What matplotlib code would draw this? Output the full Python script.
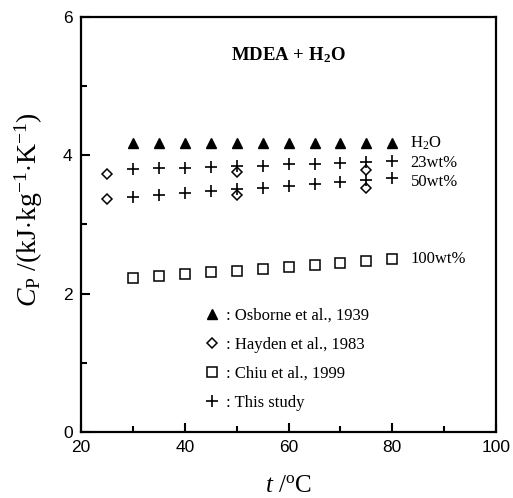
import numpy as np
import matplotlib
matplotlib.use('Agg')
import matplotlib.pyplot as plt
from matplotlib.ticker import MultipleLocator

plt.rcParams['mathtext.fontset'] = 'custom'
plt.rcParams['mathtext.rm'] = 'Liberation Serif'
plt.rcParams['mathtext.it'] = 'Liberation Serif:italic'
plt.rcParams['mathtext.bf'] = 'Liberation Serif:bold'

# temperatures, degC
t_study = [30, 35, 40, 45, 50, 55, 60, 65, 70, 75, 80]
t_hayden = [25, 50, 75]

# heat capacity, kJ/(kg K)
cp_water = [4.18, 4.18, 4.18, 4.18, 4.18, 4.18, 4.18, 4.18, 4.18, 4.18, 4.18]
cp_23 = [3.80, 3.81, 3.82, 3.83, 3.84, 3.85, 3.87, 3.88, 3.89, 3.91, 3.92]
cp_50 = [3.40, 3.43, 3.46, 3.48, 3.51, 3.53, 3.56, 3.59, 3.61, 3.64, 3.67]
cp_100 = [2.22, 2.25, 2.28, 2.31, 2.33, 2.36, 2.39, 2.42, 2.45, 2.47, 2.50]
hayden_23 = [3.73, 3.76, 3.79]
hayden_50 = [3.37, 3.42, 3.52]

series_labels = ['H$_2$O', '23wt%', '50wt%', '100wt%']
series_label_y = [4.18, 3.89, 3.61, 2.50]

fig = plt.figure(figsize=(5.13, 4.98), dpi=100)
ax = fig.add_axes([0.158, 0.1325, 0.809, 0.8335])

ax.plot(t_study, cp_water, '^', color='black', ms=6.5, ls='none',
        label=': Osborne et al., 1939')
ax.plot(t_hayden, hayden_23, 'D', mfc='white', mec='black', mew=1.1, ms=5.5,
        ls='none', label=': Hayden et al., 1983')
ax.plot(t_hayden, hayden_50, 'D', mfc='white', mec='black', mew=1.1, ms=5.5,
        ls='none')
ax.plot(t_study, cp_100, 's', mfc='white', mec='black', mew=1.1, ms=7,
        ls='none', label=': Chiu et al., 1999')
ax.plot(t_study, cp_23, '+', color='black', mew=1.2, ms=9, ls='none',
        label=': This study')
ax.plot(t_study, cp_50, '+', color='black', mew=1.2, ms=9, ls='none')

for lab, y in zip(series_labels, series_label_y):
    ax.text(83.5, y, lab, fontsize=12, family='Liberation Serif', va='center')

ax.text(60, 5.45, r'MDEA + H$_\mathbf{2}$O', fontsize=13.5, ha='center',
        va='center', family='Liberation Serif', fontweight='bold')

leg = ax.legend(loc='upper left', bbox_to_anchor=(0.28, 0.316), frameon=False,
                prop={'family': 'Liberation Serif', 'size': 12},
                handlelength=1.0, handletextpad=0.3, labelspacing=0.78,
                borderaxespad=0)

ax.set_xlim(20, 100)
ax.set_ylim(0, 6)
ax.xaxis.set_major_locator(MultipleLocator(20))
ax.xaxis.set_minor_locator(MultipleLocator(10))
ax.yaxis.set_major_locator(MultipleLocator(2))
ax.yaxis.set_minor_locator(MultipleLocator(1))
ax.tick_params(which='both', direction='in', top=False, right=False,
               labelsize=12.5, width=1.5)
ax.tick_params(which='major', length=6.5, pad=6)
ax.tick_params(which='minor', length=4)
for lbl in ax.get_xticklabels() + ax.get_yticklabels():
    lbl.set_family('Liberation Sans')
for sp in ax.spines.values():
    sp.set_linewidth(1.6)

ax.set_xlabel(r'$\it{t}$ /$^{\rm o}$C', fontsize=18, family='Liberation Serif',
              labelpad=14)
ax.set_ylabel(r'$\it{C}_{\rm P}$ /(kJ$\cdot$kg$^{-1}$$\cdot$K$^{-1}$)',
              fontsize=20, family='Liberation Serif')
ax.yaxis.set_label_coords(-0.088, 0.535)

fig.savefig('out.png', dpi=100)
